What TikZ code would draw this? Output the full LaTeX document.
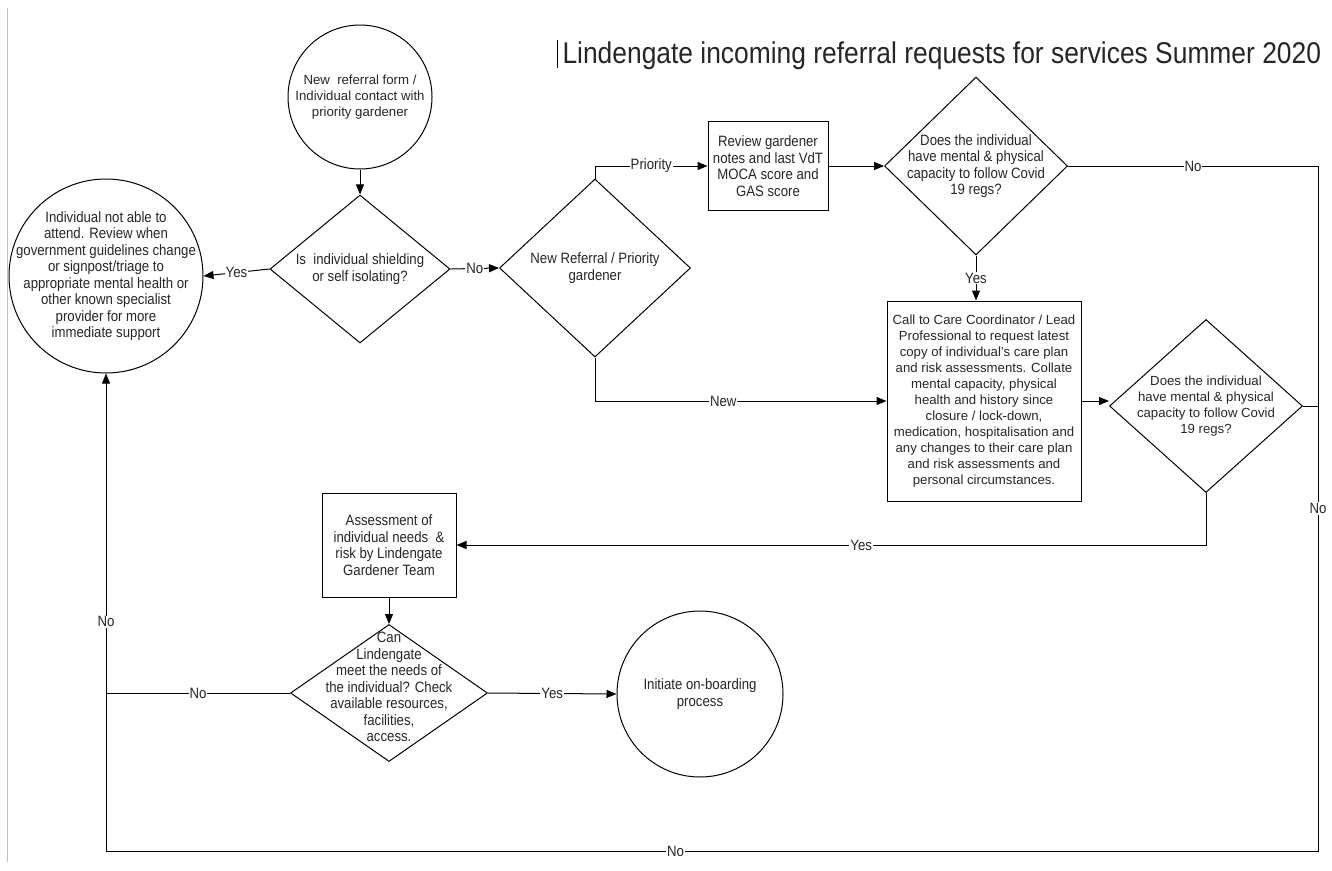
\documentclass[tikz,border=0pt]{standalone}
\usepackage{fontspec}
\setmainfont{Liberation Sans}
\newfontfamily\narrowfont[FakeStretch=0.88]{Liberation Sans}
\usetikzlibrary{positioning,shapes.geometric,arrows.meta}
\tikzset{
	txt/.style={align=center,font=\fontsize{13.2}{16}\selectfont,text=black!85},
	ntxt/.style={align=center,font=\narrowfont\fontsize{15}{16.5}\selectfont,text=black!85},
	box/.style={draw,rectangle,inner sep=1pt},
	dia/.style={draw,diamond,inner sep=0pt},
	rnd/.style={draw,circle,inner sep=0pt},
	lbl/.style={ntxt,fill=white,inner sep=1pt},
	arr/.style={-{Triangle[length=10pt,width=8pt]}},
}
\begin{document}
\begin{tikzpicture}[x=1pt,y=-1pt,line width=1pt]
	\useasboundingbox (0,0) rectangle (1332,870);
	\draw[gray!50,line width=0.8pt] (7,8) -- (7,862);
	\draw[line width=0.8pt] (557,40) -- (557,68);
	\node[anchor=base west,inner sep=0pt,font=\narrowfont\fontsize{30}{34}\selectfont,text=black!85] (title) at (562,63) {Lindengate incoming referral requests for services Summer 2020};
	\node[rnd,minimum size=144pt,label={[txt]center:{New~ referral form /\\Individual contact with\\priority gardener}}] (start) at (360,97) {};
	\node[rnd,minimum size=194pt,label={[ntxt]center:{Individual not able to\\attend. Review when\\government guidelines change\\or signpost/triage to\\appropriate mental health or\\other known specialist\\provider for more\\immediate support}}] (notable) at (106,276) {};
	\node[dia,minimum width=180pt,minimum height=148pt,label={[ntxt]center:{Is~ individual shielding\\or self isolating?}}] (shield) at (360,269) {};
	\node[dia,minimum width=191pt,minimum height=178pt,label={[ntxt]center:{New Referral / Priority\\gardener}}] (route) at (595,268) {};
	\node[box,ntxt,minimum width=120pt,minimum height=89pt] (review) at (768,166) {Review gardener\\notes and last VdT\\MOCA score and\\GAS score};
	\node[dia,minimum width=183pt,minimum height=178pt,label={[ntxt]center:{Does the individual\\have mental \& physical\\capacity to follow Covid\\19 regs?}}] (capone) at (976,166) {};
	\node[box,txt,minimum width=194pt,minimum height=200pt] (care) at (984,401) {Call to Care Coordinator / Lead\\Professional to request latest\\copy of individual's care plan\\and risk assessments. Collate\\mental capacity, physical\\health and history since\\closure / lock-down,\\medication, hospitalisation and\\any changes to their care plan\\and risk assessments and\\personal circumstances.};
	\node[dia,minimum width=193pt,minimum height=173pt,label={[txt]center:{Does the individual\\have mental \& physical\\capacity to follow Covid\\19 regs?}}] (captwo) at (1206,406) {};
	\node[box,ntxt,minimum width=134pt,minimum height=104pt] (assess) at (389,545) {Assessment of\\individual needs~ \&\\risk by Lindengate\\Gardener Team};
	\node[dia,minimum width=197pt,minimum height=137pt,label={[ntxt,yshift=6pt]center:{Can\\Lindengate\\meet the needs of\\the individual? Check\\available resources,\\facilities,\\access.}}] (meet) at (389,693) {};
	\node[rnd,minimum size=166pt,label={[ntxt]center:{Initiate on-boarding\\process}}] (onboard) at (700,694) {};
	\coordinate (ne) at (1318,166);
	\coordinate (se) at (1318,851);
	\coordinate (sw) at (106,851);
	\draw[arr] (start) -- (shield);
	\draw[arr] (shield.west) -- node[lbl]{Yes} (notable.east);
	\draw[arr] (shield.east) -- node[lbl]{No} (route.west);
	\draw[arr] (route.north) |- node[lbl,pos=0.75]{Priority} (review.west);
	\draw[arr] (route.south) |- node[lbl,pos=0.72]{New} (care.west);
	\draw[arr] (review) -- (capone);
	\draw[arr] (capone.south) -- node[lbl]{Yes} (capone.south |- care.north);
	\draw[arr] (care.east) -- (care.east -| captwo.west);
	\draw[arr] (captwo.south) |- node[lbl,pos=0.73]{Yes} (assess.east);
	\draw (captwo.east) -- (captwo.east -| ne);
	\draw[arr] (capone.east) -- node[lbl]{No} (ne) -- node[lbl]{No} (se) -- node[lbl,pos=0.53]{No} (sw) -- node[lbl,pos=0.48]{No} (notable.south);
	\draw[arr] (assess) -- (meet);
	\draw (meet.west) -- node[lbl]{No} (meet.west -| sw);
	\draw[arr] (meet.east) -- node[lbl]{Yes} (onboard.west);
\end{tikzpicture}
\end{document}
